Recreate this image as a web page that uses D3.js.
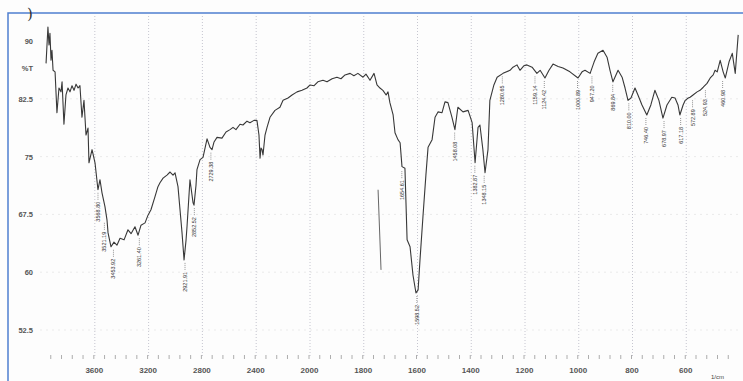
<!DOCTYPE html>
<html>
<head>
<meta charset="utf-8">
<script src="https://cdn.jsdelivr.net/npm/d3@7/dist/d3.min.js"></script>
<style>
  html, body { margin: 0; padding: 0; background: #fff; }
  svg { display: block; }
  .tick text { font-family: "Liberation Sans", Arial, sans-serif; }
</style>
</head>
<body>
<div id="chart"></div>
<script>
// IR spectrum, wavenumber (1/cm) vs %T
const wavenumber = [
  3955, 3941, 3933, 3926, 3918, 3911, 3903, 3888, 3874, 3859, 3844, 3836, 3822, 3807, 3792, 3777,
  3762, 3747, 3732, 3717, 3703, 3688, 3673, 3658, 3643, 3636, 3613, 3591, 3569, 3554, 3539, 3517,
  3502, 3494, 3472, 3450, 3428, 3405, 3375, 3346, 3323, 3294, 3271, 3249, 3219, 3197, 3175, 3145,
  3123, 3108, 3085, 3056, 3033, 3011, 2996, 2974, 2959, 2944, 2929, 2914, 2907, 2885, 2862, 2855,
  2840, 2833, 2810, 2788, 2758, 2736, 2721, 2706, 2684, 2647, 2617, 2587, 2565, 2543, 2513, 2491,
  2461, 2439, 2409, 2387, 2372, 2364, 2357, 2349, 2342, 2327, 2312, 2290, 2253, 2216, 2193, 2156,
  2126, 2089, 2052, 2015, 1996, 1981, 1967, 1948, 1933, 1914, 1896, 1881, 1866, 1847, 1833, 1818,
  1799, 1788, 1773, 1758, 1747, 1736, 1725, 1713, 1706, 1699, 1687, 1680, 1669, 1661, 1654, 1643,
  1635, 1624, 1613, 1602, 1594, 1587, 1576, 1565, 1557, 1542, 1531, 1520, 1505, 1494, 1483, 1468,
  1457, 1446, 1427, 1408, 1393, 1382, 1371, 1364, 1353, 1345, 1334, 1327, 1312, 1300, 1278, 1252,
  1241, 1226, 1215, 1200, 1189, 1170, 1152, 1140, 1122, 1107, 1092, 1073, 1055, 1029, 999, 984,
  973, 954, 939, 925, 906, 891, 880, 869, 850, 835, 824, 813, 802, 787, 776, 761,
  743, 728, 713, 698, 683, 668, 650, 638, 627, 620, 608, 600, 589, 582, 571, 556,
  545, 533, 519, 507, 496, 489, 481, 470, 459, 451, 437, 425, 414, 403
];
const transmittance = [
  87.1, 91.8, 89.5, 91.0, 87.5, 88.8, 86.2, 86.0, 80.7, 83.9, 83.4, 84.7, 79.2, 83.0, 83.9, 83.4,
  84.2, 83.6, 84.4, 83.9, 84.2, 80.1, 82.3, 77.8, 78.7, 74.2, 75.9, 74.2, 70.7, 72.0, 70.3, 68.5,
  66.8, 65.1, 63.3, 63.9, 63.5, 64.4, 64.2, 65.5, 65.0, 65.9, 64.8, 66.1, 66.4, 67.4, 68.1, 69.8,
  71.1, 71.6, 72.2, 72.6, 73.0, 72.6, 72.9, 71.1, 68.1, 65.1, 61.6, 64.2, 65.9, 72.0, 69.0, 68.7,
  71.3, 73.3, 74.6, 74.9, 77.3, 76.2, 75.9, 76.9, 77.5, 77.4, 78.2, 78.5, 78.8, 78.5, 79.2, 79.1,
  79.6, 79.4, 79.7, 79.7, 77.8, 74.8, 76.1, 75.9, 75.2, 77.8, 78.8, 80.1, 81.0, 81.4, 82.3, 82.6,
  83.0, 83.4, 83.6, 83.9, 84.3, 84.2, 84.7, 84.9, 84.7, 85.1, 85.3, 85.1, 85.6, 85.8, 85.5, 85.8,
  85.3, 85.7, 84.9, 85.8, 84.3, 83.9, 83.6, 83.0, 83.4, 82.0, 80.4, 78.1, 77.2, 76.8, 73.7, 73.5,
  64.2, 63.3, 59.6, 57.3, 57.7, 61.6, 67.2, 72.6, 76.2, 77.2, 80.1, 80.8, 80.7, 82.1, 82.0, 80.1,
  78.5, 81.4, 80.8, 81.0, 79.4, 74.2, 78.8, 79.1, 75.9, 72.9, 75.9, 82.3, 84.3, 85.3, 85.8, 86.2,
  86.6, 86.9, 86.2, 86.8, 86.9, 86.6, 85.8, 86.2, 85.2, 86.2, 87.0, 86.7, 86.5, 86.0, 85.2, 86.0,
  86.2, 85.8, 87.3, 88.4, 88.8, 87.9, 86.2, 84.7, 86.2, 85.3, 83.9, 82.3, 82.6, 83.9, 83.0, 81.7,
  80.4, 81.7, 83.6, 82.3, 80.0, 81.7, 82.7, 82.6, 81.7, 80.4, 81.7, 82.3, 82.6, 82.7, 83.0, 83.4,
  83.6, 84.0, 84.5, 85.2, 85.6, 86.2, 86.0, 87.5, 86.0, 85.2, 87.3, 88.4, 85.8, 90.8
];

// stray pen stroke on the scan near 1740 1/cm
const strokeWn = [1743, 1732];
const strokeT = [70.7, 60.3];

const peakLabels = [
  "3568.80", "3521.19", "3453.92", "3261.40", "2921.91", "2852.52", "2729.38",
  "1654.61", "1598.52", "1458.08", "1382.87", "1348.15", "1280.65", "1159.14",
  "1124.42", "1000.89", "947.20", "869.84", "810.00", "746.40", "678.97",
  "617.18", "572.89", "524.93", "460.98"
];

const xTicks = [3600, 3200, 2800, 2400, 2000, 1800, 1600, 1400, 1200, 1000, 800, 600];
const yTicks = [90, 82.5, 75, 67.5, 60, 52.5];

const W = 743, H = 381;
const svg = d3.select('#chart').append('svg')
  .attr('width', W).attr('height', H);

svg.append('rect').attr('width', W).attr('height', H).attr('fill', '#fdfdfd');

// chart expands 2x below 2000 1/cm
const x = d3.scaleLinear().domain([4000, 2000, 400]).range([40, 309, 739]);
const y = d3.scaleLinear().domain([90, 52.5]).range([41, 330]);

// grid
svg.append('g').selectAll('line').data(xTicks).enter().append('line')
  .attr('x1', d => x(d) + 1).attr('x2', d => x(d) + 1)
  .attr('y1', 16).attr('y2', 356)
  .attr('stroke', '#b8b8c4').attr('stroke-width', 0.8)
  .attr('stroke-dasharray', '1,2');

svg.append('g').selectAll('line').data(yTicks.slice(1)).enter().append('line')
  .attr('x1', 40).attr('x2', 739)
  .attr('y1', d => y(d)).attr('y2', d => y(d))
  .attr('stroke', '#e2e2e2').attr('stroke-width', 0.7)
  .attr('stroke-dasharray', '2,4');

// minor ticks row
const minor = d3.range(3920, 2000, -80).concat(d3.range(2000, 400, -40));
svg.append('g').selectAll('line').data(minor).enter().append('line')
  .attr('x1', d => x(d)).attr('x2', d => x(d))
  .attr('y1', 355).attr('y2', 359)
  .attr('stroke', '#999').attr('stroke-width', 0.8);

// axes (labels only)
const xAxis = svg.append('g')
  .attr('transform', 'translate(0,364)')
  .call(d3.axisBottom(x).tickValues(xTicks).tickSize(0).tickFormat(d3.format('d')));
xAxis.select('.domain').remove();
xAxis.selectAll('text').attr('font-size', 8).attr('font-weight', 'bold').attr('fill', '#555');

const yAxis = svg.append('g')
  .attr('transform', 'translate(33,0)')
  .call(d3.axisLeft(y).tickValues(yTicks).tickSize(0).tickPadding(0).tickFormat(d => d));
yAxis.select('.domain').remove();
yAxis.selectAll('text').attr('font-size', 7.5).attr('font-weight', 'bold').attr('fill', '#555');

svg.append('text').attr('x', 33).attr('y', y(86.4)).attr('dy', '0.32em')
  .attr('text-anchor', 'end').attr('font-size', 7.5).attr('font-weight', 'bold')
  .attr('fill', '#555').attr('font-family', '"Liberation Sans", Arial, sans-serif')
  .text('%T');

svg.append('text').attr('x', 711).attr('y', 379)
  .attr('font-size', 6).attr('fill', '#444')
  .attr('font-family', '"Liberation Sans", Arial, sans-serif')
  .text('1/cm');

// spectrum
const spectrum = wavenumber.map((w, i) => [w, transmittance[i]]);
const line = d3.line().x(d => x(d[0])).y(d => y(d[1]));

svg.append('path').datum(spectrum)
  .attr('d', line)
  .attr('fill', 'none').attr('stroke', '#383838')
  .attr('stroke-width', 1.1).attr('stroke-linejoin', 'round');

svg.append('path').datum(strokeWn.map((w, i) => [w, strokeT[i]]))
  .attr('d', line)
  .attr('fill', 'none').attr('stroke', '#555').attr('stroke-width', 0.9);

// peak annotations: dashed leader below the nearest minimum, rotated value
const peaks = peakLabels.map(s => {
  const w = +s;
  const win = w > 2000 ? 25 : 12;
  const near = spectrum.filter(p => Math.abs(p[0] - w) <= win);
  const t = near.length ? d3.min(near, p => p[1]) : transmittance[d3.leastIndex(wavenumber, v => Math.abs(v - w))];
  return { w, t, s };
});

const pk = svg.append('g');
pk.selectAll('line').data(peaks).enter().append('line')
  .attr('x1', d => x(d.w)).attr('x2', d => x(d.w))
  .attr('y1', d => y(d.t) + 3).attr('y2', d => y(d.t) + 11)
  .attr('stroke', '#666').attr('stroke-width', 0.7).attr('stroke-dasharray', '1,1');

pk.selectAll('text').data(peaks).enter().append('text')
  .attr('transform', d => `translate(${x(d.w) + 2},${y(d.t) + 12}) rotate(-90)`)
  .attr('text-anchor', 'end')
  .attr('font-size', 5.5).attr('fill', '#333')
  .attr('font-family', '"Liberation Sans", Arial, sans-serif')
  .text(d => d.s);

// scan frame
svg.append('path')
  .attr('d', `M8,${H} V13 H${W}`)
  .attr('fill', 'none').attr('stroke', '#4f7fd0').attr('stroke-width', 1.5);

svg.append('text').attr('x', 27).attr('y', 19)
  .attr('font-size', 15).attr('fill', '#333').attr('font-family', 'DejaVu Serif, serif')
  .text(')');
</script>
</body>
</html>
